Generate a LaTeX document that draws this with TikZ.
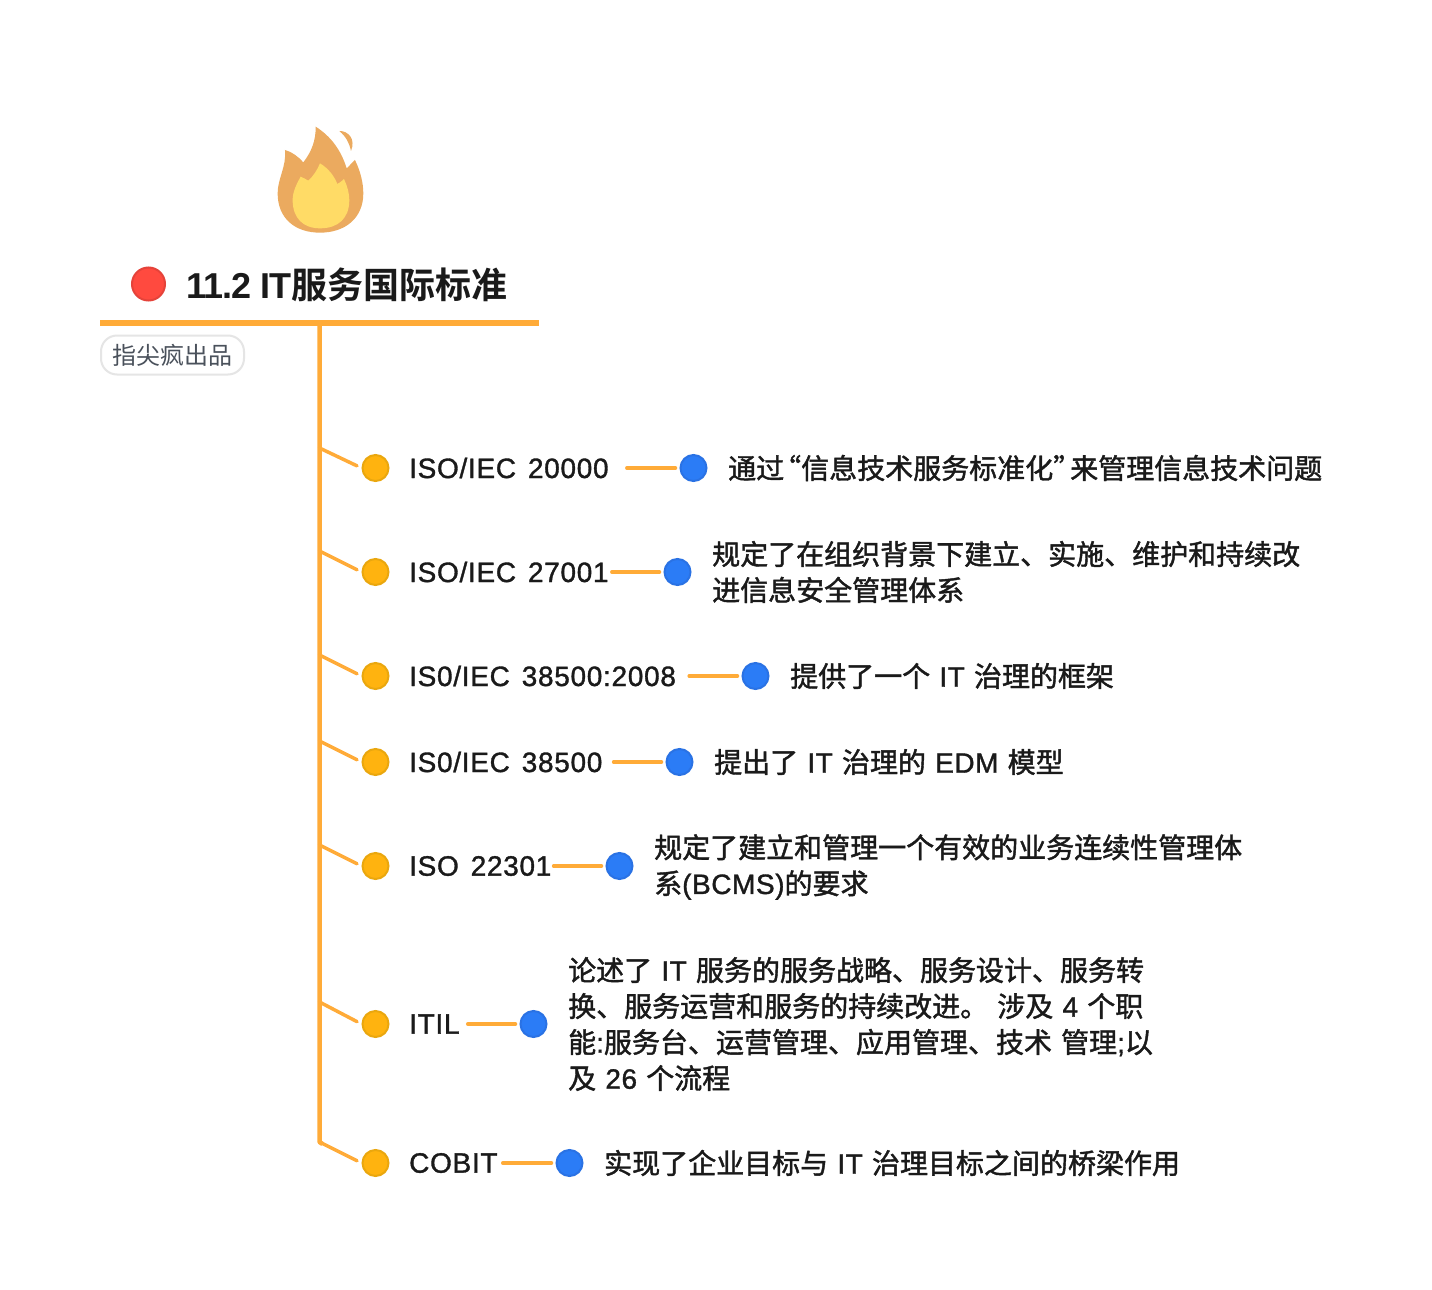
\documentclass[tikz,border=0pt]{standalone}
\usepackage{fontspec}
\usepackage{xcolor}
\setmainfont{Liberation Sans}[LetterSpace=2,WordSpace=1.1,FakeBold=1.2]
\newfontfamily\topicfont{Liberation Sans}[LetterSpace=2.5,WordSpace=1.4,FakeBold=1.2]
\newfontfamily\titlefont{Liberation Sans Bold}[LetterSpace=-2.5]
\newfontfamily\cjk{Noto Sans CJK SC}[FakeBold=1.5]
\newfontfamily\cjkplain{Noto Sans CJK SC}
\newfontfamily\cjkbold{Noto Sans CJK SC Bold}
\newcommand{\zh}[1]{{\cjk #1}}
\definecolor{lineorange}{HTML}{FFAB38}
\definecolor{dotorange}{HTML}{FFB30F}
\definecolor{dotorangeb}{HTML}{EAA70E}
\definecolor{dotblue}{HTML}{2B7CF6}
\definecolor{dotblueb}{HTML}{2A72E4}
\definecolor{dotred}{HTML}{FF4A3F}
\definecolor{dotredb}{HTML}{E5433A}
\definecolor{flameout}{HTML}{EBAA5F}
\definecolor{flamein}{HTML}{FFDB66}
\definecolor{inkdark}{HTML}{1A1A1A}
\definecolor{inktag}{HTML}{4A515B}
\tikzset{
  topicdot/.style={circle,draw=dotorangeb,fill=dotorange,line width=2pt,minimum size=26pt,inner sep=0pt},
  leafdot/.style={circle,draw=dotblueb,fill=dotblue,line width=2pt,minimum size=26pt,inner sep=0pt},
  topictext/.style={anchor=west,inner sep=0pt,text=inkdark,font=\fontsize{28pt}{36pt}\topicfont\selectfont},
  leaftext/.style={anchor=west,inner sep=0pt,text=inkdark,align=left,font=\fontsize{28pt}{36pt}\selectfont},
  branch/.style={draw=lineorange,line width=3.5pt,line cap=round},
  chord/.style={branch,shorten <=#1,shorten >=4pt},
  twig/.style={branch,shorten >=5pt}
}
\begin{document}
\begin{tikzpicture}[x=1pt,y=-1pt]
\useasboundingbox [fill=white] (0,0) rectangle (1432,1290);
% flame
\begin{scope}[shift={(90,110)},x=0.3333pt,y=-0.3333pt]
\fill [flameout] (677,50) .. controls (725,80) and (755,125) .. (770,175)
  .. controls (778,168) and (786,158) .. (795,150)
  .. controls (812,185) and (820,220) .. (820,250)
  .. controls (820,325) and (765,368) .. (690,368)
  .. controls (615,368) and (563,325) .. (563,250)
  .. controls (563,205) and (590,170) .. (585,120)
  .. controls (605,125) and (625,140) .. (640,157)
  .. controls (665,125) and (678,90) .. (677,50) -- cycle;
\fill [flamein] (690,160) .. controls (715,175) and (733,198) .. (742,222)
  .. controls (750,218) and (756,213) .. (762,207)
  .. controls (772,228) and (778,250) .. (778,270)
  .. controls (778,325) and (745,355) .. (690,355)
  .. controls (640,355) and (608,325) .. (608,270)
  .. controls (608,245) and (620,222) .. (632,200)
  .. controls (640,203) and (648,208) .. (655,212)
  .. controls (670,198) and (682,180) .. (690,160) -- cycle;
\fill [flameout] (748,63) .. controls (775,62) and (798,88) .. (783,123)
  .. controls (778,98) and (768,80) .. (748,63) -- cycle;
\end{scope}
% title
\node (rootdot) [circle,draw=dotredb,fill=dotred,line width=2pt,minimum size=33pt,inner sep=0pt] at (148.5,284) {};
\node (root) [anchor=west,inner sep=0pt,text=inkdark,font=\fontsize{36pt}{40pt}\titlefont\selectfont] at (186,284.5) {11.2 IT{\cjkbold 服务国际标准}};
\draw [draw=lineorange,line width=6.5pt] (100,323) coordinate (rootl) -- (539,323) coordinate (rootr);
\node (tag) [draw=black!10,fill=white,line width=2pt,rounded corners=16pt,minimum width=143pt,minimum height=39pt,inner sep=0pt,anchor=north west,text=inktag,font=\fontsize{24pt}{28pt}\cjkplain\selectfont] at (100,334.5) {指尖疯出品};
% spine
\coordinate (s0) at (319.5,323);
\coordinate (s1) at (319.5,448);
\coordinate (s2) at (319.5,551);
\coordinate (s3) at (319.5,655);
\coordinate (s4) at (319.5,741);
\coordinate (s5) at (319.5,845);
\coordinate (s6) at (319.5,1002);
\coordinate (s7) at (319.5,1142);
\draw [branch,line width=4.5pt,line cap=butt,line join=round] (s0) -- (s7) -- ++(3,2);
% topics
\node (d1) [topicdot] at (375.5,468) {};
\node (d2) [topicdot] at (375.5,572) {};
\node (d3) [topicdot] at (375.5,676) {};
\node (d4) [topicdot] at (375.5,762) {};
\node (d5) [topicdot] at (375.5,866) {};
\node (d6) [topicdot] at (375.5,1024) {};
\node (d7) [topicdot] at (375.5,1163) {};
\node (t1) [topictext] at (409,468) {ISO/IEC 20000};
\node (t2) [topictext] at (409,572) {ISO/IEC 27001};
\node (t3) [topictext] at (409,676) {IS0/IEC 38500:2008};
\node (t4) [topictext] at (409,762) {IS0/IEC 38500};
\node (t5) [topictext] at (409,866) {ISO 22301};
\node (t6) [topictext] at (409,1024) {ITIL};
\node (t7) [topictext] at (409,1163) {COBIT};
\foreach \i in {1,...,7} {
  \draw [twig] (s\i) -- (d\i.west);
}
% leaves
\node (l1) [leafdot] at (693.5,468) {};
\node (l2) [leafdot] at (677.5,572) {};
\node (l3) [leafdot] at (755.5,676) {};
\node (l4) [leafdot] at (679.5,762) {};
\node (l5) [leafdot] at (619.5,866) {};
\node (l6) [leafdot] at (533.5,1024) {};
\node (l7) [leafdot] at (569.5,1163) {};
\node (b1) [leaftext] at (728,468) {\zh{通过\hspace*{-11pt}“信息技术服务标准化”\hspace*{-11pt}来管理信息技术问题}};
\node (b2) [leaftext] at (712,572) {\zh{规定了在组织背景下建立、实施、维护和持续改}\\\zh{进信息安全管理体系}};
\node (b3) [leaftext] at (790,676) {\zh{提供了一个} IT \zh{治理的框架}};
\node (b4) [leaftext] at (714,762) {\zh{提出了} IT \zh{治理的} EDM \zh{模型}};
\node (b5) [leaftext] at (654,867) {\zh{规定了建立和管理一个有效的业务连续性管理体}\\\zh{系}(BCMS)\zh{的要求}};
\node (b6) [leaftext] at (568,1024) {\zh{论述了} IT \zh{服务的服务战略、服务设计、服务转}\\\zh{换、服务运营和服务的持续改进。} \zh{涉及} 4 \zh{个职}\\\zh{能}:\zh{服务台、运营管理、应用管理、技术} \zh{管理};\zh{以}\\\zh{及} 26 \zh{个流程}};
\node (b7) [leaftext] at (604,1163) {\zh{实现了企业目标与} IT \zh{治理目标之间的桥梁作用}};
\draw [chord=18pt] (t1) -- (l1);
\draw [chord=3pt] (t2) -- (l2);
\draw [chord=13pt] (t3) -- (l3);
\draw [chord=11pt] (t4) -- (l4);
\draw [chord=2pt] (t5) -- (l5);
\draw [chord=8pt] (t6) -- (l6);
\draw [chord=5pt] (t7) -- (l7);
\end{tikzpicture}
\end{document}
